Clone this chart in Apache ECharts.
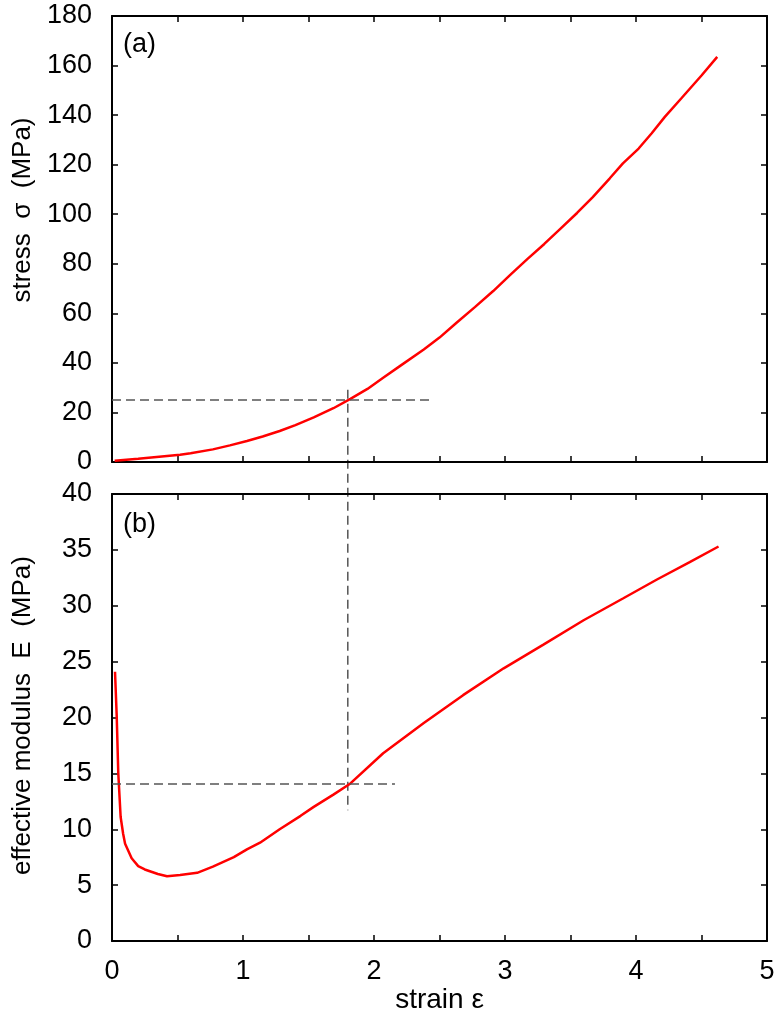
<!DOCTYPE html>
<html>
<head>
<meta charset="utf-8">
<script src="https://cdn.jsdelivr.net/npm/echarts@6/dist/echarts.min.js"></script>
<style>
  html, body { margin: 0; padding: 0; background: #fff; }
  #chart { width: 781px; height: 1011px; }
</style>
</head>
<body>
<div id="chart"></div>
<script>
// (a) stress vs strain
var strainA = [0.02, 0.2, 0.4, 0.52, 0.6, 0.77, 0.9, 1.03, 1.15, 1.28, 1.4, 1.54, 1.69, 1.82, 1.95,
  2.07, 2.2, 2.38, 2.5, 2.63, 2.77, 2.91, 3.04, 3.17, 3.3, 3.42, 3.55, 3.67, 3.8, 3.9,
  4.02, 4.12, 4.22, 4.35, 4.5, 4.62]
var stressA = [0.5, 1.3, 2.3, 2.9, 3.5, 5.1, 6.7, 8.5, 10.3, 12.5, 14.9, 18.0, 21.7, 25.5, 29.5,
  34.0, 38.8, 45.4, 50.2, 56.2, 62.5, 69.0, 75.5, 81.9, 88.0, 94.0, 100.5, 106.9, 114.5, 120.5,
  126.5, 132.7, 139.3, 147.0, 156.0, 163.5]

// (b) effective modulus vs strain
var strainB = [0.023, 0.036, 0.048, 0.066, 0.085, 0.1, 0.15, 0.2, 0.25, 0.3, 0.35, 0.42, 0.52,
  0.65, 0.77, 0.93, 1.03, 1.13, 1.28, 1.44, 1.54, 1.69, 1.82, 2.07, 2.38, 2.68, 2.99, 3.29,
  3.6, 3.9, 4.16, 4.41, 4.63]
var modulusB = [24.1, 20.1, 15.0, 11.1, 9.6, 8.7, 7.4, 6.7, 6.4, 6.2, 6.0, 5.8, 5.9,
  6.1, 6.65, 7.5, 8.2, 8.8, 10.0, 11.2, 12.0, 13.1, 14.1, 16.8, 19.5, 22.0, 24.4, 26.5,
  28.7, 30.65, 32.35, 33.9, 35.3]

// guide lines
var markStrain = 1.8
var markStress = 25
var markModulus = 14.1

var font = "'Liberation Sans', Arial, Helvetica, sans-serif"
var dash = { color: '#555', width: 1.5, type: [9, 5] }

function pairs (xs, ys) {
  return xs.map(function (x, i) { return [x, ys[i]] })
}

function xAx (grid, pos, labels) {
  return {
    type: 'value', gridIndex: grid, position: pos, min: 0, max: 5, interval: 0.5,
    axisLine: { onZero: false, lineStyle: { color: '#000', width: 2 } },
    axisTick: { inside: true, length: 6, lineStyle: { color: '#000', width: 1.5 } },
    axisLabel: {
      show: labels, margin: 17, color: '#000', fontSize: 27, fontFamily: font,
      formatter: function (v) { return v % 1 === 0 ? v : '' }
    },
    splitLine: { show: false },
    name: labels ? 'strain ε' : '',
    nameLocation: 'middle', nameGap: 38,
    nameTextStyle: { color: '#000', fontSize: 28, fontFamily: font }
  }
}

function yAx (grid, pos, max, step, name, labels, pad) {
  return {
    type: 'value', gridIndex: grid, position: pos, min: 0, max: max, interval: step,
    axisLine: { onZero: false, lineStyle: { color: '#000', width: 2 } },
    axisTick: { inside: true, length: 6, lineStyle: { color: '#000', width: 1.5 } },
    axisLabel: { show: labels, margin: 20, color: '#000', fontSize: 27, fontFamily: font },
    splitLine: { show: false },
    name: name,
    nameLocation: 'middle', nameGap: 76,
    nameTextStyle: { color: '#000', fontSize: 26, fontFamily: font, padding: pad || 0 }
  }
}

var chart = echarts.init(document.getElementById('chart'))
var option = {
  animation: false,
  backgroundColor: '#fff',
  grid: [
    { left: 112, right: 14, top: 16, height: 446, outerBoundsMode: 'none' },
    { left: 112, right: 14, top: 494, height: 447, outerBoundsMode: 'none' }
  ],
  xAxis: [xAx(0, 'bottom', false), xAx(0, 'top', false), xAx(1, 'bottom', true), xAx(1, 'top', false)],
  yAxis: [
    yAx(0, 'left', 180, 20, 'stress  σ  (MPa)', true, [0, 0, 0, 58]),
    yAx(0, 'right', 180, 20, '', false),
    yAx(1, 'left', 40, 5, 'effective modulus  E  (MPa)', true, [0, 0, 0, 4]),
    yAx(1, 'right', 40, 5, '', false)
  ],
  series: [
    {
      type: 'line', xAxisIndex: 0, yAxisIndex: 0, showSymbol: false,
      data: pairs(strainA, stressA),
      lineStyle: { color: '#ff0000', width: 2.5 },
      markLine: {
        silent: true, symbol: 'none', label: { show: false }, lineStyle: dash,
        data: [[{ coord: [0, markStress] }, { coord: [2.43, markStress] }]]
      }
    },
    {
      type: 'line', xAxisIndex: 2, yAxisIndex: 2, showSymbol: false,
      data: pairs(strainB, modulusB),
      lineStyle: { color: '#ff0000', width: 2.5 },
      markLine: {
        silent: true, symbol: 'none', label: { show: false }, lineStyle: dash,
        data: [[{ coord: [0, markModulus] }, { coord: [2.16, markModulus] }]]
      }
    }
  ]
}
chart.setOption(option)

// vertical guide crossing both panels
var p1 = chart.convertToPixel({ seriesIndex: 0 }, [markStrain, 29.2])
var p2 = chart.convertToPixel({ seriesIndex: 1 }, [markStrain, 11.7])
chart.setOption({
  graphic: [
    {
      type: 'line', silent: true,
      shape: { x1: p1[0], y1: p1[1], x2: p2[0], y2: p2[1] },
      style: { stroke: '#555', lineWidth: 1.5, lineDash: [9, 5] }
    },
    { type: 'text', left: 123, top: 31, style: { text: '(a)', font: '27px ' + font, fill: '#000' } },
    { type: 'text', left: 123, top: 511, style: { text: '(b)', font: '27px ' + font, fill: '#000' } }
  ]
})
</script>
</body>
</html>
